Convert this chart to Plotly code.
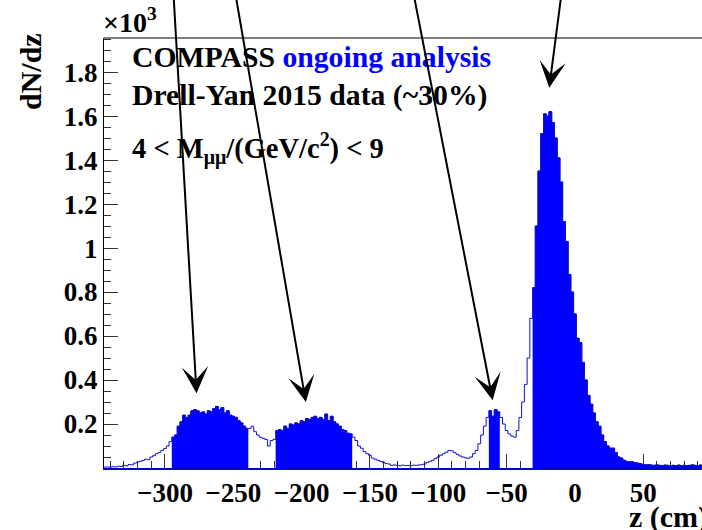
import numpy as np
import plotly.graph_objects as go

# ---------------- data (dN/dz in units of 10^3, 2 cm bins) ----------------
z_start = -345.0
bin_width = 2.0
counts = [
    # -345 .. -295 (outline only)
    0.004, 0.005, 0.003, 0.006, 0.005, 0.008, 0.007, 0.012, 0.010, 0.016,
    0.014, 0.022, 0.026, 0.030, 0.034, 0.040, 0.038, 0.050, 0.056, 0.065,
    0.070, 0.080, 0.088, 0.100, 0.120,
    # -295 .. -239 (cell 1)
    0.14, 0.15, 0.19, 0.21, 0.24, 0.23, 0.24, 0.26, 0.265, 0.26,
    0.25, 0.255, 0.245, 0.26, 0.255, 0.27, 0.28, 0.265, 0.275, 0.25,
    0.26, 0.24, 0.235, 0.23, 0.215, 0.205, 0.19, 0.18,
    # -239 .. -219
    0.18, 0.19, 0.165, 0.15, 0.14, 0.135, 0.13, 0.10, 0.125, 0.13,
    # -219 .. -163 (cell 2)
    0.17, 0.175, 0.17, 0.19, 0.18, 0.2, 0.195, 0.205, 0.2, 0.215,
    0.21, 0.225, 0.22, 0.23, 0.235, 0.225, 0.23, 0.22, 0.245, 0.215,
    0.235, 0.21, 0.2, 0.19, 0.175, 0.17, 0.158, 0.155,
    # -163 .. -63
    0.14, 0.125, 0.1, 0.09, 0.075, 0.065, 0.058, 0.045, 0.04, 0.035,
    0.03, 0.025, 0.02, 0.018, 0.012, 0.014, 0.012, 0.01, 0.013, 0.011,
    0.012, 0.01, 0.013, 0.012, 0.014, 0.015, 0.018, 0.025, 0.03, 0.035,
    0.043, 0.05, 0.058, 0.065, 0.072, 0.08, 0.078, 0.07, 0.062, 0.055,
    0.05, 0.046, 0.044, 0.05, 0.065, 0.08, 0.11, 0.15, 0.19, 0.23,
    # -63 .. -55 (absorber region)
    0.26, 0.235, 0.265, 0.255,
    # -55 .. -31
    0.23, 0.2, 0.17, 0.155, 0.145, 0.14, 0.17, 0.23, 0.3, 0.38, 0.5, 0.68,
    # -31 .. 95 (W absorber)
    0.82, 1.1, 1.35, 1.52, 1.61, 1.6, 1.62, 1.57, 1.5, 1.41,
    1.3, 1.12, 1.03, 0.88, 0.8, 0.7, 0.59, 0.57, 0.48, 0.4,
    0.33, 0.29, 0.25, 0.21, 0.19, 0.15, 0.12, 0.1, 0.09, 0.09,
    0.07, 0.05, 0.045, 0.035, 0.03, 0.027, 0.028, 0.024, 0.022, 0.02,
    0.015, 0.014, 0.016, 0.013, 0.012, 0.014, 0.012, 0.011, 0.013, 0.012,
    0.01, 0.012, 0.011, 0.013, 0.01, 0.012, 0.011, 0.012, 0.014, 0.012,
    0.011, 0.013, 0.012,
]
filled_ranges = [(-295, -239), (-219, -163), (-63, -55), (-31, 95)]

# arrows: (tip z, tip value, tail z, tail value)
arrow_tips_z = [-276.9, -196.9, -60.2, -18.8]
arrow_tips_v = [0.34, 0.30, 0.308, 1.729]
arrow_tails_z = [-293.7, -248.3, -117.9, -10.0]
arrow_tails_v = [2.15, 2.15, 2.15, 2.15]

x_ticks = [-300, -250, -200, -150, -100, -50, 0, 50]
y_ticks = [0.2, 0.4, 0.6, 0.8, 1.0, 1.2, 1.4, 1.6, 1.8]
y_tick_labels = ["0.2", "0.4", "0.6", "0.8", "1", "1.2", "1.4", "1.6", "1.8"]

# ---------------------------------------------------------------------------
FONT = "Liberation Serif"
edges = z_start + bin_width * np.arange(len(counts) + 1)
counts_arr = np.array(counts)

fig = go.Figure()

for a, b in filled_ranges:
    i0 = int(np.argmin(np.abs(edges - a)))
    i1 = int(np.argmin(np.abs(edges - b)))
    xs = edges[i0:i1 + 1]
    ys = list(counts_arr[i0:i1]) + [counts_arr[i1 - 1]]
    fig.add_trace(go.Scatter(x=xs, y=ys, mode="lines", line_shape="hv",
                             fill="tozeroy", fillcolor="#0000ff",
                             line=dict(color="#00009a", width=1),
                             showlegend=False, hoverinfo="skip"))

fig.add_trace(go.Scatter(x=edges, y=list(counts_arr) + [counts_arr[-1]],
                         mode="lines", line_shape="hv",
                         line=dict(color="#1010d8", width=1),
                         showlegend=False, hoverinfo="skip"))

W, H = 702, 530
L, R, T, B = 104, 0, 38, 62
PW, PH = W - L - R, H - T - B


def px(x):
    return (x - L) / PW


def py(y):
    return (H - B - y) / PH


tickfont = dict(size=27, family=FONT, weight="bold", color="black")

fig.update_layout(
    width=W, height=H,
    margin=dict(l=L, r=R, t=T, b=B),
    paper_bgcolor="white", plot_bgcolor="white",
    font=dict(family=FONT, color="black"),
    xaxis=dict(range=[-344.6, 92.97], showgrid=False, zeroline=False,
               showline=True, linecolor="#0000d0", linewidth=2,
               ticks="inside", ticklen=14, tickwidth=1, tickcolor="#333",
               tickvals=x_ticks, tickfont=tickfont,
               minor=dict(ticks="inside", ticklen=7, dtick=10, tick0=0,
                          tickcolor="#333", showgrid=False),
               layer="below traces"),
    yaxis=dict(range=[0, 1.955], showgrid=False, zeroline=False,
               showline=True, linecolor="black", linewidth=1,
               ticks="inside", ticklen=14, tickwidth=1, tickcolor="#333",
               tickvals=y_ticks, ticktext=y_tick_labels,
               tickfont=tickfont,
               minor=dict(ticks="inside", ticklen=7, dtick=0.05, tick0=0,
                          tickcolor="#333", showgrid=False)),
    shapes=[dict(type="line", xref="paper", yref="paper", x0=0, x1=1,
                 y0=1, y1=1, line=dict(color="black", width=1))],
)

ann = []
ann.append(dict(x=px(130), y=py(57), xref="paper", yref="paper",
                xanchor="left", yanchor="middle", showarrow=False,
                text="COMPASS <span style='color:#0000ff'>ongoing analysis</span>",
                font=dict(size=29.7, family=FONT, weight="bold")))
ann.append(dict(x=px(130), y=py(95), xref="paper", yref="paper",
                xanchor="left", yanchor="middle", showarrow=False,
                text="Drell-Yan 2015 data (~30%)",
                font=dict(size=29.7, family=FONT, weight="bold")))
ann.append(dict(x=px(130), y=py(148), xref="paper", yref="paper",
                xanchor="left", yanchor="middle", showarrow=False,
                text="4 &lt; M<sub>μμ</sub>/(GeV/c<sup>2</sup>) &lt; 9",
                font=dict(size=28.5, family=FONT, weight="bold")))
ann.append(dict(x=px(101), y=py(20), xref="paper", yref="paper",
                xanchor="left", yanchor="middle", showarrow=False,
                text="×10<sup>3</sup>", font=dict(size=28, family=FONT, weight="bold")))
ann.append(dict(x=px(30), y=py(72), xref="paper", yref="paper",
                xanchor="center", yanchor="middle", showarrow=False,
                textangle=-90, text="dN/dz",
                font=dict(size=30, family=FONT, weight="bold")))
ann.append(dict(x=px(710), y=py(517), xref="paper", yref="paper",
                xanchor="right", yanchor="middle", showarrow=False,
                text="z (cm)", font=dict(size=30, family=FONT, weight="bold")))

for tz, tv, az, av in zip(arrow_tips_z, arrow_tips_v, arrow_tails_z, arrow_tails_v):
    ann.append(dict(x=tz, y=tv, xref="x", yref="y", ax=az, ay=av,
                    axref="x", ayref="y", showarrow=True, arrowhead=3,
                    arrowsize=2.2, arrowwidth=2, arrowcolor="black",
                    standoff=0, text=""))

fig.update_layout(annotations=ann)
fig.write_html("out.html")
